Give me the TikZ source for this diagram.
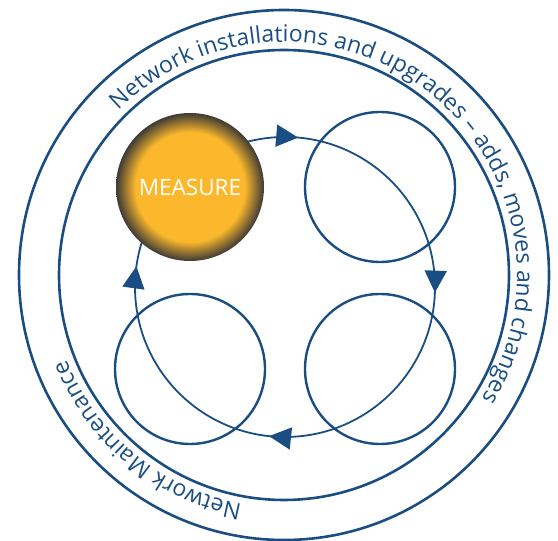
\documentclass[tikz,border=0pt]{standalone}
\usepackage{fontspec}
\usetikzlibrary{decorations.text,decorations.markings,arrows.meta}
\newfontfamily\ringfont{Open Sans}
\definecolor{ringblue}{HTML}{1A4E83}
\definecolor{ballcore}{HTML}{FBB82C}
\definecolor{ballrim}{HTML}{3E3A36}
\pgfdeclareradialshading{measureball}{\pgfpoint{0bp}{0bp}}{color(0bp)=(ballcore); color(18.5bp)=(ballcore); color(25bp)=(ballrim); color(50bp)=(ballrim)}

\tikzset{
  ring/.style={draw=ringblue, line width=2.6pt},
  stage/.style={circle, draw=ringblue, line width=2.4pt, minimum size=150pt, inner sep=0pt},
  flow/.style={draw=ringblue, line width=1.8pt, postaction={decorate},
    decoration={markings,
      mark=at position 0.022 with {\arrow{Triangle[length=22pt,width=22pt]}},
      mark=at position 0.264 with {\arrow{Triangle[length=22pt,width=22pt]}},
      mark=at position 0.506 with {\arrow{Triangle[length=22pt,width=22pt]}},
      mark=at position 0.767 with {\arrow{Triangle[length=22pt,width=22pt]}}}},
  ringtext/.style={decorate, decoration={text along path, text align=center, text={#1}}}
}

\begin{document}
\begin{tikzpicture}[x=1pt, y=1pt]
    \useasboundingbox (0,0) rectangle (558,541);
    \coordinate (hub) at (284,266);
    \coordinate (loopc) at (285,254);
    \draw [ring] (hub) circle (265);
    \draw [ring] (hub) circle (225);
    \path [ringtext={|\ringfont\fontsize{23}{28}\selectfont\color{ringblue}|Network installations and upgrades – adds, moves and changes}]
      (hub) ++(171.5:233) arc [start angle=171.5, end angle=-68.5, radius=233];
    \path [ringtext={|\ringfont\fontsize{23}{28}\selectfont\color{ringblue}|Network Maintenance}]
      (hub) ++(-39.5:233) arc [start angle=-39.5, end angle=-219.5, radius=233];
    \draw [flow] (loopc) ++(180:150) arc [start angle=180, end angle=-180, radius=150];
    \node (b) [stage] at (380,354) {};
    \node (c) [stage] at (380,172) {};
    \node (d) [stage] at (190,172) {};
    \node (a) [circle, minimum size=148pt, inner sep=0pt, shade, shading=measureball,
      text=white, font=\ringfont\fontsize{22.5}{27}\selectfont] at (190,354) {MEASURE};
\end{tikzpicture}
\end{document}
